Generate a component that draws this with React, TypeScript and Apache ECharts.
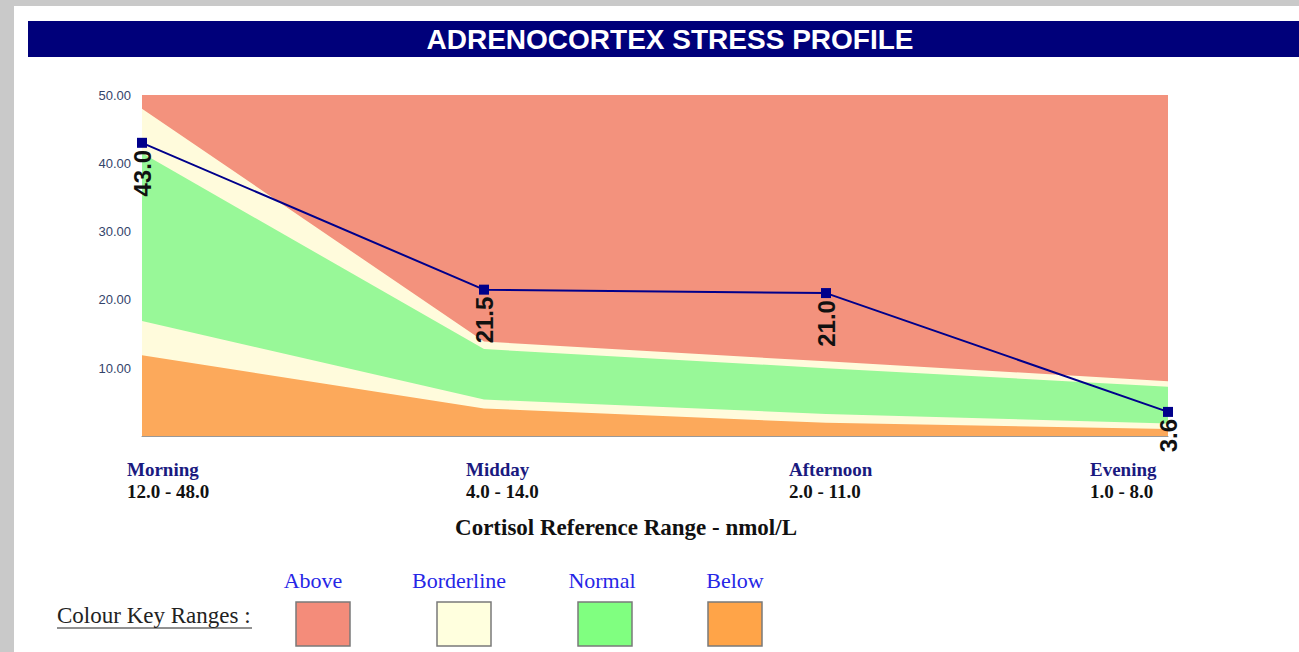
import React, { useEffect, useRef } from "react";
import * as echarts from "echarts";

// ---- data ----
const categories = ["Morning", "Midday", "Afternoon", "Evening"];
const rangeLabels = ["12.0 - 48.0", "4.0 - 14.0", "2.0 - 11.0", "1.0 - 8.0"];
const aboveTop = [50, 50, 50, 50];
const upperBorderlineTop = [48.0, 13.9, 11.0, 8.1];
const normalTop = [41.5, 12.8, 10.0, 7.3];
const lowerBorderlineTop = [16.9, 5.4, 3.3, 1.9];
const belowTop = [11.9, 4.1, 2.0, 1.1];
const cortisol = [43.0, 21.5, 21.0, 3.6];
const keyLabels = ["Above", "Borderline", "Normal", "Below"];

// ---- styles ----
const bandColors = ["#f3927d", "#fffbdc", "#98f898", "#fca95b"];
const keyColors = ["#f48c7a", "#ffffde", "#80ff80", "#ffa448"];
const catLabelX = [127, 466, 789, 1090];
const keyLabelX = [313, 459, 602, 735];
const keyBoxX = [296, 437, 578, 708];

export default function App() {
  const ref = useRef<HTMLDivElement>(null);
  useEffect(() => {
    if (!ref.current) return;
    const chart = echarts.init(ref.current, undefined, { renderer: "svg" });
    const band = (name: string, data: number[], color: string) => ({
      name,
      type: "line",
      data,
      symbol: "none",
      lineStyle: { width: 0, color },
      itemStyle: { color },
      areaStyle: { color, opacity: 1 },
      silent: true,
    });
    const graphics: any[] = [
      { type: "rect", z: -10, shape: { x: 14, y: 6, width: 1285, height: 646 }, style: { fill: "#ffffff" } },
      { type: "rect", shape: { x: 28, y: 21, width: 1271, height: 36 }, style: { fill: "#00007a" } },
      {
        type: "text", x: 670, y: 39,
        style: { text: "ADRENOCORTEX STRESS PROFILE", fill: "#ffffff", fontFamily: "Liberation Sans, Arial", fontWeight: "bold", fontSize: 28, align: "center", verticalAlign: "middle" },
      },
      {
        type: "text", x: 626, y: 527,
        style: { text: "Cortisol Reference Range - nmol/L", fill: "#111111", fontFamily: "Liberation Serif, Times New Roman", fontWeight: "bold", fontSize: 23, align: "center", verticalAlign: "middle" },
      },
      {
        type: "text", x: 57, y: 615,
        style: { text: "Colour Key Ranges :", fill: "#222222", fontFamily: "Liberation Serif, Times New Roman", fontSize: 23, align: "left", verticalAlign: "middle" },
      },
      { type: "line", shape: { x1: 57, y1: 628, x2: 252, y2: 628 }, style: { stroke: "#222222", lineWidth: 1 } },
    ];
    categories.forEach((c, i) => {
      graphics.push({
        type: "text", x: catLabelX[i], y: 469,
        style: { text: c, fill: "#1a1a80", fontFamily: "Liberation Serif, Times New Roman", fontWeight: "bold", fontSize: 19, align: "left", verticalAlign: "middle" },
      });
      graphics.push({
        type: "text", x: catLabelX[i], y: 491,
        style: { text: rangeLabels[i], fill: "#111111", fontFamily: "Liberation Serif, Times New Roman", fontWeight: "bold", fontSize: 19, align: "left", verticalAlign: "middle" },
      });
    });
    keyLabels.forEach((k, i) => {
      graphics.push({
        type: "text", x: keyLabelX[i], y: 580,
        style: { text: k, fill: "#2626e6", fontFamily: "Liberation Serif, Times New Roman", fontSize: 22, align: "center", verticalAlign: "middle" },
      });
      graphics.push({
        type: "rect", shape: { x: keyBoxX[i], y: 602, width: 54, height: 44 },
        style: { fill: keyColors[i], stroke: "#7a7a7a", lineWidth: 1.5 },
      });
    });

    chart.setOption({
      animation: false,
      backgroundColor: "#c9c9c9",
      grid: { left: 142, right: 131, top: 95, height: 341.5 },
      xAxis: {
        type: "category",
        data: categories,
        boundaryGap: false,
        axisLine: { show: true, lineStyle: { color: "#999999", width: 1 } },
        axisTick: { show: false },
        axisLabel: { show: false },
        splitLine: { show: false },
        z: 10,
      },
      yAxis: {
        type: "value",
        min: 0,
        max: 50,
        interval: 10,
        axisLine: { show: false },
        axisTick: { show: false },
        splitLine: { show: false },
        axisLabel: {
          showMinLabel: false,
          margin: 11,
          color: "#33446a",
          fontFamily: "Liberation Sans, Arial",
          fontSize: 13,
          formatter: (v: number) => v.toFixed(2),
        },
      },
      graphic: graphics,
      series: [
        band("Above", aboveTop, bandColors[0]),
        band("Borderline upper", upperBorderlineTop, bandColors[1]),
        band("Normal", normalTop, bandColors[2]),
        band("Borderline lower", lowerBorderlineTop, bandColors[1]),
        band("Below", belowTop, bandColors[3]),
        {
          name: "Cortisol",
          type: "line",
          data: cortisol,
          symbol: "rect",
          symbolSize: 10,
          lineStyle: { color: "#00008b", width: 2 },
          itemStyle: { color: "#00008b" },
          z: 5,
          label: {
            show: true,
            position: "bottom",
            distance: 2,
            rotate: 90,
            align: "right",
            verticalAlign: "middle",
            color: "#111111",
            fontFamily: "Liberation Sans, Arial",
            fontWeight: "bold",
            fontSize: 24,
            formatter: (p: any) => Number(p.value).toFixed(1),
          },
        },
      ],
    });
    return () => chart.dispose();
  }, []);
  return (
    <div
      ref={ref}
      style={{ position: "fixed", left: 0, top: 0, width: 1299, height: 652 }}
    />
  );
}
